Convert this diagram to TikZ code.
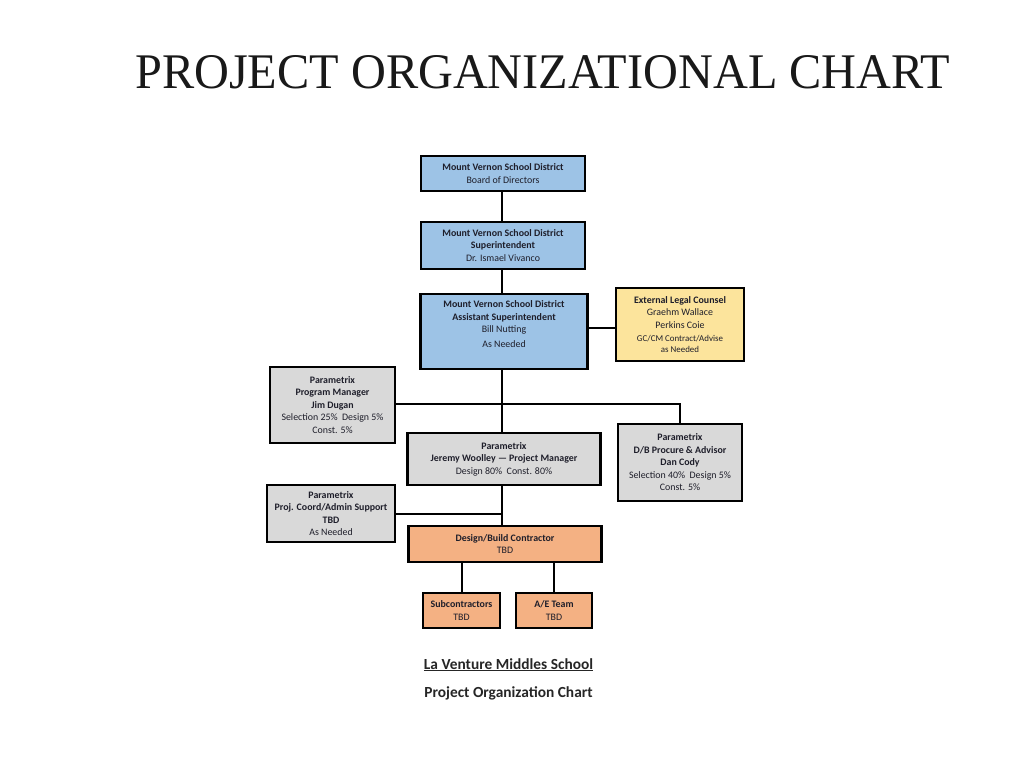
\documentclass[tikz,border=0pt]{standalone}
\usepackage{fontspec}
\setmainfont{Carlito}
\newfontfamily\titlefont{Liberation Serif}
\definecolor{bluebox}{HTML}{9DC3E6}
\definecolor{graybox}{HTML}{D9D9D9}
\definecolor{yellowbox}{HTML}{FCE49C}
\definecolor{orangebox}{HTML}{F4B183}
\definecolor{txt}{HTML}{1E1E2A}
\newcommand\smalltxt[1]{{\fontsize{8.9}{10.5}\selectfont #1}}
\begin{document}
\begin{tikzpicture}[x=1pt,y=-1pt,
  box/.style={draw=black, line width=2.2pt, align=center, inner sep=0pt,
    font=\fontsize{9.9}{12.5}\selectfont, text=txt},
  bluestyle/.style={box, fill=bluebox},
  graystyle/.style={box, fill=graybox},
  yellowstyle/.style={box, fill=yellowbox},
  orangestyle/.style={box, fill=orangebox},
  conn/.style={line width=2pt, draw=black},
  caption/.style={font=\bfseries\fontsize{15.4}{18}\selectfont, text=black!85, inner sep=0pt}]
\useasboundingbox[fill=white] (0,0) rectangle (1024,768);

\node[anchor=base west, inner sep=0pt, text=black!90] (title) at (135,88)
  {\resizebox{815pt}{33pt}{\titlefont PROJECT ORGANIZATIONAL CHART}};

\node[bluestyle, minimum width=164pt, minimum height=35pt] (board) at (503,173.5)
  {\textbf{Mount Vernon School District}\\Board of Directors};
\node[bluestyle, minimum width=164pt, minimum height=47pt] (super) at (503,245.5)
  {\textbf{Mount Vernon School District}\\\textbf{Superintendent}\\Dr. Ismael Vivanco};
\node[bluestyle, minimum width=167pt, minimum height=75pt] (asst) at (504,331.5)
  {\textbf{Mount Vernon School District}\\\textbf{Assistant Superintendent}\\Bill Nutting\\[2pt]As Needed\\[2pt]\mbox{}};
\node[yellowstyle, minimum width=128pt, minimum height=73pt] (legal) at (680,324.5)
  {\textbf{External Legal Counsel}\\Graehm Wallace\\Perkins Coie\\[1pt]\smalltxt{GC/CM Contract/Advise}\\[-1.5pt]\smalltxt{as Needed}};

\node[graystyle, minimum width=125pt, minimum height=76pt] (pm) at (332.5,405)
  {\textbf{Parametrix}\\\textbf{Program Manager}\\\textbf{Jim Dugan}\\Selection 25\%\ \ Design 5\%\\Const. 5\%};
\node[graystyle, minimum width=193pt, minimum height=52pt] (jeremy) at (504,459)
  {\textbf{Parametrix}\\\textbf{Jeremy Woolley --- Project Manager}\\Design 80\%\ \ Const. 80\%};
\node[graystyle, minimum width=124pt, minimum height=77pt] (dan) at (680,462.5)
  {\textbf{Parametrix}\\\textbf{D/B Procure \& Advisor}\\\textbf{Dan Cody}\\Selection 40\%\ \ Design 5\%\\Const. 5\%};
\node[graystyle, minimum width=128pt, minimum height=57pt] (pc) at (331,513.5)
  {\textbf{Parametrix}\\\textbf{Proj. Coord/Admin Support}\\\textbf{TBD}\\As Needed};

\node[orangestyle, minimum width=193pt, minimum height=36pt] (db) at (505,544)
  {\textbf{Design/Build Contractor}\\TBD};
\node[orangestyle, minimum width=77pt, minimum height=35pt] (sub) at (461.5,610.5)
  {\textbf{Subcontractors}\\TBD};
\node[orangestyle, minimum width=76pt, minimum height=35pt] (ae) at (554,610.5)
  {\textbf{A/E Team}\\TBD};

\coordinate (legy) at (0,328);
\coordinate (pmy) at (0,404);
\coordinate (trunk) at (502,0);

\draw[conn] (trunk|-board.south) -- (trunk|-super.north);
\draw[conn] (trunk|-super.south) -- (trunk|-asst.north);
\draw[conn] (asst.east|-legy) -- (legal.west|-legy);
\draw[conn] (trunk|-asst.south) -- (trunk|-jeremy.north);
\draw[conn] (pm.east|-pmy) -- (dan.north|-pmy) -- (dan.north);
\draw[conn] (trunk|-jeremy.south) -- (trunk|-db.north);
\draw[conn] (pc.east) -- (pc.east-|trunk);
\draw[conn] (db.south-|sub.north) -- (sub.north);
\draw[conn] (db.south-|ae.north) -- (ae.north);

\node[caption, anchor=base] (cap1) at (508.5,669) {\underline{La Venture Middles School}};
\node[caption, anchor=base] (cap2) at (508.5,697.5) {Project Organization Chart};
\end{tikzpicture}
\end{document}
